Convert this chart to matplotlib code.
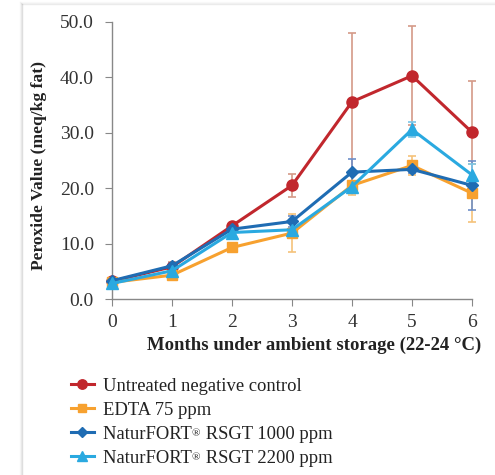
import matplotlib
matplotlib.use("Agg")
import matplotlib.pyplot as plt
from matplotlib.lines import Line2D

plt.rcParams['font.family'] = ['Liberation Serif', 'DejaVu Serif']

months = [0, 1, 2, 3, 4, 5, 6]
x_ticklabels = ["0", "1", "2", "3", "4", "5", "6"]
y_ticks = [0, 10, 20, 30, 40, 50]

control = [3.2, 5.8, 13.2, 20.5, 35.6, 40.3, 30.1]
control_err = [0.3, 0.8, 0.5, 2.1, 12.5, 8.9, 9.3]
edta = [3.0, 4.3, 9.3, 11.9, 20.5, 24.1, 19.1]
edta_err = [0.3, 0.5, 0.4, 3.5, 1.8, 1.8, 5.2]
rsgt1000 = [3.3, 6.0, 12.6, 14.0, 22.9, 23.4, 20.5]
rsgt1000_err = [0.3, 0.5, 0.5, 1.0, 2.4, 0.7, 4.4]
rsgt2200 = [2.8, 5.1, 12.0, 12.5, 20.3, 30.6, 22.4]
rsgt2200_err = [0.3, 0.5, 0.6, 1.3, 1.0, 1.3, 2.0]

brand = "NaturFORT"
labels = ["Untreated negative control", "EDTA 75 ppm",
          brand + "\u2002 RSGT 1000 ppm", brand + "\u2002 RSGT 2200 ppm"]
colors = ["#C1272D", "#F7A12F", "#1F6CB3", "#2AA9E0"]
err_colors = ["#D49A88", "#F5C27A", "#6E8FC8", "#7CC6E8"]
markers = ["o", "s", "D", "^"]
msizes = [8, 6.5, 6, 8]

W, H = 495, 475
fig = plt.figure(figsize=(W / 100, H / 100), dpi=100)

# card shadow
for i, a in enumerate([0.25, 0.12, 0.06]):
    fig.add_artist(Line2D([(22 - i) / W, (22 - i) / W], [0, 1 - (4 - i) / H],
                          color="#888888", alpha=a, lw=1, transform=fig.transFigure))
    fig.add_artist(Line2D([(22 - i) / W, 1], [1 - (4 - i) / H, 1 - (4 - i) / H],
                          color="#888888", alpha=a * 0.6, lw=1, transform=fig.transFigure))

ax = fig.add_axes([112 / W, (H - 299) / H, 360 / W, 277 / H])

series = [(control, control_err), (edta, edta_err), (rsgt1000, rsgt1000_err), (rsgt2200, rsgt2200_err)]
for (vals, errs), c, ec, m, ms, lab in zip(series, colors, err_colors, markers, msizes, labels):
    ax.errorbar(months, vals, yerr=errs, fmt='none', ecolor=ec, elinewidth=1.2,
                capsize=3, capthick=1.2, clip_on=False, zorder=2)
    ax.plot(months, vals, color=c, lw=2.2, marker=m, markersize=ms,
            label=lab, clip_on=False, zorder=3)

ax.set_xlim(0, 6)
ax.set_ylim(0, 50)
ax.set_xticks(months)
ax.set_xticklabels(x_ticklabels)
ax.set_yticks(y_ticks)
ax.set_yticklabels([f"{v:.1f}" for v in y_ticks])
for s in ["top", "right"]:
    ax.spines[s].set_visible(False)
for s in ["left", "bottom"]:
    ax.spines[s].set_color("#888888")
    ax.spines[s].set_linewidth(1.0)
ax.tick_params(axis='both', direction='out', length=5, color="#888888",
               labelsize=14, labelcolor="#333333", pad=6)
ax.tick_params(axis='y', pad=8)

ax.set_ylabel("Peroxide Value (meq/kg fat)", fontsize=12.6, fontweight='bold',
              color="#222222")
ax.yaxis.set_label_coords(-0.18, 0.482)
ax.set_xlabel("Months under ambient storage (22-24 \u00b0C)", fontsize=13.5,
              fontweight='bold', color="#222222")
ax.xaxis.set_label_coords(0.5625, -0.135)

handles, labs = ax.get_legend_handles_labels()
leg_fs = 13.4
leg = fig.legend(handles, labs, loc='upper left', bbox_to_anchor=(54 / W, 1 - 361 / H),
                 frameon=False, fontsize=leg_fs, handlelength=1.25, handletextpad=0.48,
                 labelspacing=0.37, markerscale=0.85, labelcolor="#222222")

# superscript registered sign after the brand name
fig.canvas.draw()
r = fig.canvas.get_renderer()
tmp = fig.text(0, 0, brand, fontsize=leg_fs)
bw = tmp.get_window_extent(r).width
tmp.remove()
for t in leg.get_texts()[2:]:
    bb = t.get_window_extent(r)
    fig.text((bb.x0 + bw + 0.3) / W, (bb.y1 - 3.5) / H, "\u00ae", fontsize=8,
             va='top', ha='left', color="#222222")

fig.savefig("out.png", dpi=100)
